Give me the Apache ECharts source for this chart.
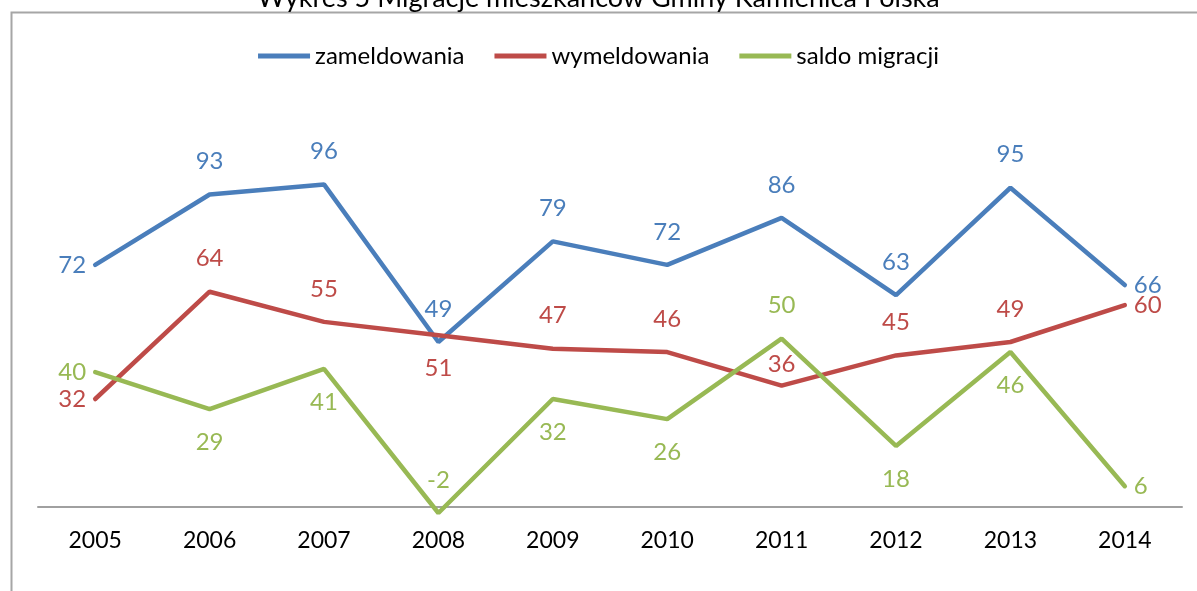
<!DOCTYPE html>
<html>
<head>
<meta charset="utf-8">
<style>
  html, body { margin: 0; padding: 0; background: #fff; }
  #chart { width: 1197px; height: 591px; }
</style>
<script src="https://cdn.jsdelivr.net/npm/echarts@6/dist/echarts.min.js"></script>
</head>
<body>
<div id="chart"></div>
<script>
const years = ['2005', '2006', '2007', '2008', '2009', '2010', '2011', '2012', '2013', '2014']
const zameldowania = [72, 93, 96, 49, 79, 72, 86, 63, 95, 66]
const wymeldowania = [32, 64, 55, 51, 47, 46, 36, 45, 49, 60]
const saldo = [40, 29, 41, -2, 32, 26, 50, 18, 46, 6]

// where each value label sits relative to its point
const zamPos = ['left', 'top', 'top', 'top', 'top', 'top', 'top', 'top', 'top', 'right']
const wymPos = ['left', 'top', 'top', 'bottom', 'top', 'top', 'top', 'top', 'top', 'right']
const saldoPos = ['left', 'bottom', 'bottom', 'top', 'bottom', 'bottom', 'top', 'bottom', 'bottom', 'right']

const font = 'Lato, "Open Sans", sans-serif'

function createLine(name, values, positions, color, closer) {
  return {
    name: name,
    type: 'line',
    symbol: 'circle',
    symbolSize: 0,
    clip: false,
    lineStyle: { color: color, width: 4.5, cap: 'round' },
    itemStyle: { color: color },
    data: values.map((v, i) => {
      let dist = positions[i] === 'left' || positions[i] === 'right' ? 9 : 21
      if (closer && closer.indexOf(i) >= 0) dist = 9
      return {
        value: v,
        label: { position: positions[i], distance: dist }
      }
    }),
    label: {
      show: true,
      color: color,
      fontSize: 24,
      fontFamily: font
    },
    animation: false
  }
}

const chart = echarts.init(document.getElementById('chart'))
chart.setOption({
  title: {
    text: 'Wykres 5 Migracje mieszkańców Gminy Kamienica Polska',
    left: 'center',
    top: -20,
    textStyle: { fontSize: 27, fontWeight: 'normal', color: '#000', fontFamily: font }
  },
  legend: {
    top: 39,
    left: 'center',
    itemWidth: 52,
    itemHeight: 5,
    itemGap: 30,
    icon: 'rect',
    textStyle: { fontSize: 24, color: '#000', fontFamily: font },
    data: ['zameldowania', 'wymeldowania', 'saldo migracji']
  },
  graphic: [{
    type: 'rect',
    shape: { x: 11.5, y: 12.5, width: 1200, height: 600 },
    style: { fill: 'none', stroke: '#a6a6a6', lineWidth: 2 },
    silent: true
  }],
  grid: { left: 38, right: 15, top: 171, bottom: 78 },
  xAxis: {
    type: 'category',
    data: years,
    axisLine: { onZero: true, lineStyle: { color: '#a0a0a0', width: 2 } },
    axisTick: { show: false },
    axisLabel: { color: '#000', fontSize: 23, fontFamily: font, margin: 16 }
  },
  yAxis: {
    type: 'value',
    min: -2,
    max: 100,
    show: false,
    splitLine: { show: false }
  },
  series: [
    createLine('zameldowania', zameldowania, zamPos, '#4a7ebb'),
    createLine('wymeldowania', wymeldowania, wymPos, '#be4b48', [6]),
    createLine('saldo migracji', saldo, saldoPos, '#98b954')
  ]
})
</script>
</body>
</html>
